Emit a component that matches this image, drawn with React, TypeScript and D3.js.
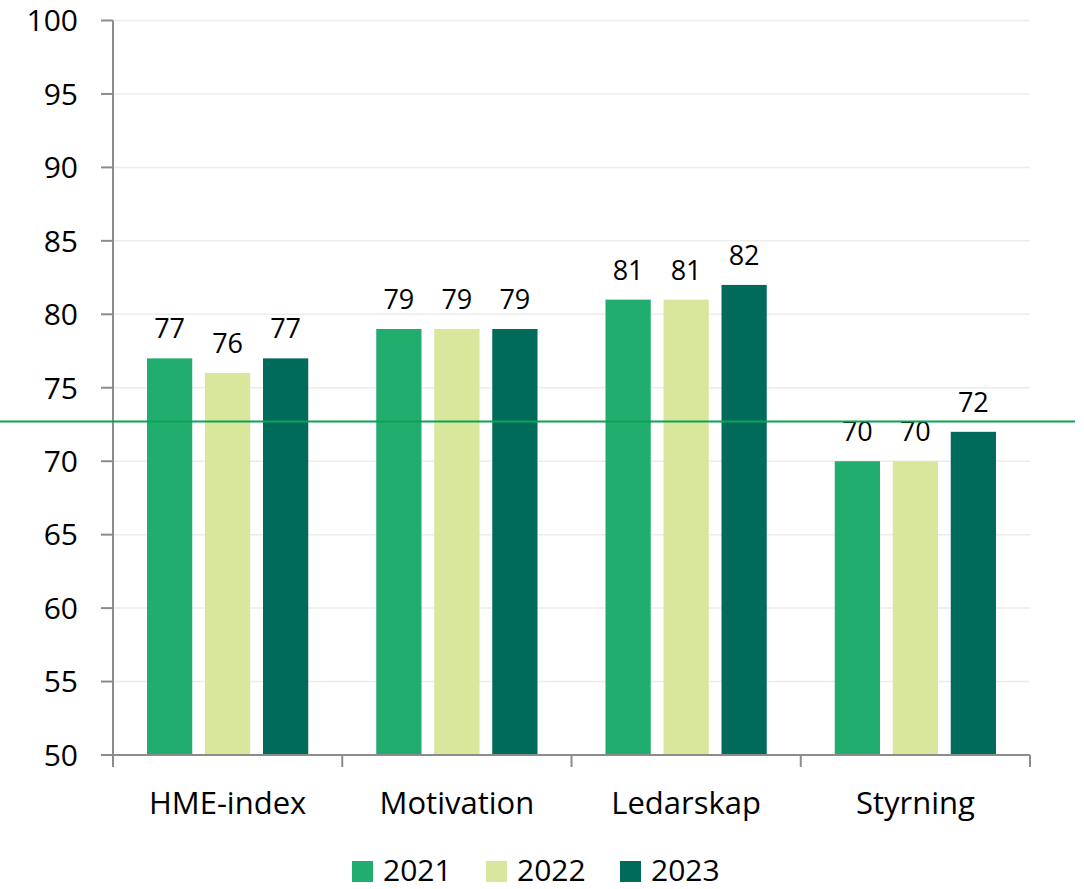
import React from "react";
import * as d3 from "d3";

const categories = ["HME-index", "Motivation", "Ledarskap", "Styrning"];
const years = ["2021", "2022", "2023"];
const values2021 = [77, 79, 81, 70];
const values2022 = [76, 79, 81, 70];
const values2023 = [77, 79, 82, 72];
const seriesValues = [values2021, values2022, values2023];
const colors = ["#21ad6e", "#d9e79c", "#006b5a"];
const yTicks = [50, 55, 60, 65, 70, 75, 80, 85, 90, 95, 100];
const referenceValue = 72.7;

const W = 1084;
const H = 889;
const FONT = "'Open Sans', 'Noto Sans', sans-serif";

export default function App() {
  const left = 113;
  const right = 1030;
  const top = 20.5;
  const bottom = 755;

  const x0 = d3.scaleBand<string>().domain(categories).range([left, right]).paddingInner(0).paddingOuter(0);
  const bw = x0.bandwidth();
  const groupPad = 34;
  const x1 = d3
    .scaleBand<string>()
    .domain(years)
    .range([groupPad, bw - groupPad])
    .paddingInner(0.22)
    .paddingOuter(0);
  const y = d3.scaleLinear().domain([50, 100]).range([bottom, top]);

  const legendItems = [
    { label: "2021", x: 352 },
    { label: "2022", x: 486 },
    { label: "2023", x: 620 },
  ];

  return (
    <svg width={W} height={H} style={{ position: "absolute", left: 0, top: 0 }} fontFamily={FONT}>
      <rect width={W} height={H} fill="#fff" />
      {/* gridlines */}
      {yTicks.map((t) => (
        <line key={"g" + t} x1={left} x2={right} y1={y(t)} y2={y(t)} stroke="#ececec" strokeWidth={1.5} />
      ))}
      {/* bars */}
      {categories.map((c, ci) =>
        years.map((yr, si) => {
          const v = seriesValues[si][ci];
          const bx = (x0(c) as number) + (x1(yr) as number);
          return (
            <g key={c + yr}>
              <rect x={bx} y={y(v)} width={x1.bandwidth()} height={y(50) - y(v)} fill={colors[si]} />
              <text
                x={bx + x1.bandwidth() / 2}
                y={y(v) - 20}
                textAnchor="middle"
                fontSize={27}
                fill="#000"
              >
                {v}
              </text>
            </g>
          );
        })
      )}
      {/* y axis */}
      <line x1={left} x2={left} y1={top} y2={bottom} stroke="#8c8c8c" strokeWidth={2} />
      {yTicks.map((t) => (
        <g key={"t" + t}>
          <line x1={left - 12} x2={left} y1={y(t)} y2={y(t)} stroke="#8c8c8c" strokeWidth={2} />
          <text x={78} y={y(t)} dy="0.36em" textAnchor="end" fontSize={30} fill="#000">
            {t}
          </text>
        </g>
      ))}
      {/* x axis */}
      <line x1={left} x2={right} y1={bottom} y2={bottom} stroke="#8c8c8c" strokeWidth={2} />
      {[...categories.map((c) => x0(c) as number), right].map((xv, i) => (
        <line key={"xt" + i} x1={xv} x2={xv} y1={bottom} y2={bottom + 12} stroke="#8c8c8c" strokeWidth={2} />
      ))}
      {categories.map((c) => (
        <text key={"c" + c} x={(x0(c) as number) + bw / 2} y={814} textAnchor="middle" fontSize={31} fill="#000">
          {c}
        </text>
      ))}
      {/* reference line */}
      <line x1={0} x2={1075} y1={y(referenceValue)} y2={y(referenceValue)} stroke="#0aa455" strokeWidth={2} />
      {/* legend */}
      {legendItems.map((it, i) => (
        <g key={it.label}>
          <rect x={it.x} y={861} width={21} height={21} fill={colors[i]} />
          <text x={it.x + 31} y={881} fontSize={30} fill="#000">
            {it.label}
          </text>
        </g>
      ))}
    </svg>
  );
}
